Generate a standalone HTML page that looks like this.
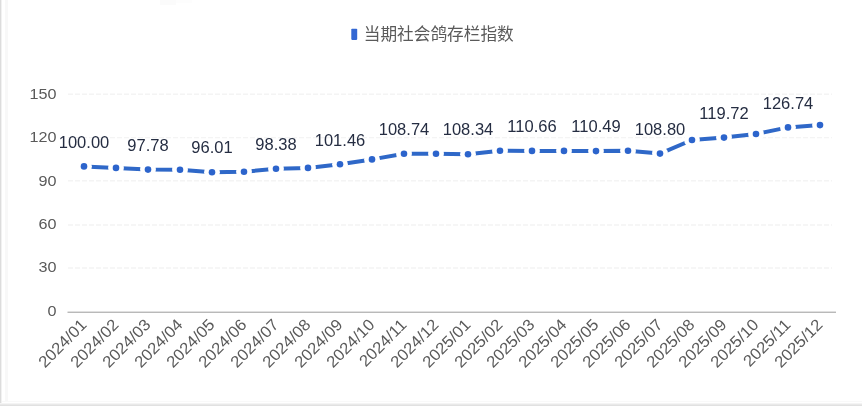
<!DOCTYPE html>
<html lang="zh"><head><meta charset="utf-8"><title>当期社会鸽存栏指数</title>
<style>
html,body{margin:0;padding:0;background:#fff;}
body{width:862px;height:406px;overflow:hidden;position:relative;}
svg{display:block;position:absolute;left:0;top:0;}
text{font-family:"Liberation Sans","Noto Sans CJK SC",sans-serif;}
.ax{fill:#5a5a5a;font-size:15.5px;}
.dl{fill:#252d42;font-size:15.9px;}
.xl{fill:#5a5a5a;font-size:16.1px;}
</style></head><body>
<svg width="862" height="406" viewBox="0 0 862 406">
<rect x="0" y="0" width="862" height="406" fill="#ffffff"/>
<rect x="0" y="0" width="1" height="406" fill="#dcdcdc"/>
<rect x="1" y="0" width="1" height="406" fill="#f1f1f1"/>
<rect x="5" y="0" width="3" height="402" fill="#f8f8f8"/>
<rect x="2" y="401" width="860" height="1" fill="#f9f9f9"/>
<rect x="0" y="403" width="862" height="1" fill="#f4f4f4"/>
<rect x="0" y="404" width="862" height="1" fill="#e9e9e9"/>
<rect x="0" y="405" width="862" height="1" fill="#e1e1e1"/>

<rect x="160" y="0" width="16" height="5" fill="#fbfbfb"/><rect x="176" y="0" width="16" height="3" fill="#fdfdfd"/>
<rect x="351.3" y="28.8" width="5.9" height="11.1" rx="0.8" fill="#3367d3"/>
<text x="363.8" y="39.5" font-size="16.66" fill="#5a5a5a">当期社会鸽存栏指数</text>
<line x1="68.0" x2="832" y1="268.0" y2="268.0" stroke="#f4f4f4" stroke-width="1.4" stroke-dasharray="5 2"/>
<line x1="68.0" x2="832" y1="225.0" y2="225.0" stroke="#f4f4f4" stroke-width="1.4" stroke-dasharray="5 2"/>
<line x1="68.0" x2="832" y1="180.7" y2="180.7" stroke="#f4f4f4" stroke-width="1.4" stroke-dasharray="5 2"/>
<line x1="68.0" x2="832" y1="137.6" y2="137.6" stroke="#f4f4f4" stroke-width="1.4" stroke-dasharray="5 2"/>
<line x1="68.0" x2="832" y1="94.3" y2="94.3" stroke="#f4f4f4" stroke-width="1.4" stroke-dasharray="5 2"/>
<line x1="67.5" x2="836.0" y1="312.2" y2="312.2" stroke="#9a9a9a" stroke-width="1"/>
<text class="ax" transform="translate(56.5,315.7) scale(1.045,1)" text-anchor="end">0</text>
<text class="ax" transform="translate(56.5,272.1) scale(1.045,1)" text-anchor="end">30</text>
<text class="ax" transform="translate(56.5,228.8) scale(1.045,1)" text-anchor="end">60</text>
<text class="ax" transform="translate(56.5,185.5) scale(1.045,1)" text-anchor="end">90</text>
<text class="ax" transform="translate(56.5,141.5) scale(1.045,1)" text-anchor="end">120</text>
<text class="ax" transform="translate(56.5,98.6) scale(1.045,1)" text-anchor="end">150</text>
<text class="xl" transform="translate(83.6,321.7) rotate(-45) scale(1.04,1)" text-anchor="end" y="5.7">2024/01</text>
<text class="xl" transform="translate(115.6,321.7) rotate(-45) scale(1.04,1)" text-anchor="end" y="5.7">2024/02</text>
<text class="xl" transform="translate(147.6,321.7) rotate(-45) scale(1.04,1)" text-anchor="end" y="5.7">2024/03</text>
<text class="xl" transform="translate(179.6,321.7) rotate(-45) scale(1.04,1)" text-anchor="end" y="5.7">2024/04</text>
<text class="xl" transform="translate(211.6,321.7) rotate(-45) scale(1.04,1)" text-anchor="end" y="5.7">2024/05</text>
<text class="xl" transform="translate(243.6,321.7) rotate(-45) scale(1.04,1)" text-anchor="end" y="5.7">2024/06</text>
<text class="xl" transform="translate(275.6,321.7) rotate(-45) scale(1.04,1)" text-anchor="end" y="5.7">2024/07</text>
<text class="xl" transform="translate(307.6,321.7) rotate(-45) scale(1.04,1)" text-anchor="end" y="5.7">2024/08</text>
<text class="xl" transform="translate(339.6,321.7) rotate(-45) scale(1.04,1)" text-anchor="end" y="5.7">2024/09</text>
<text class="xl" transform="translate(371.6,321.7) rotate(-45) scale(1.04,1)" text-anchor="end" y="5.7">2024/10</text>
<text class="xl" transform="translate(403.6,321.7) rotate(-45) scale(1.04,1)" text-anchor="end" y="5.7">2024/11</text>
<text class="xl" transform="translate(435.6,321.7) rotate(-45) scale(1.04,1)" text-anchor="end" y="5.7">2024/12</text>
<text class="xl" transform="translate(467.6,321.7) rotate(-45) scale(1.04,1)" text-anchor="end" y="5.7">2025/01</text>
<text class="xl" transform="translate(499.6,321.7) rotate(-45) scale(1.04,1)" text-anchor="end" y="5.7">2025/02</text>
<text class="xl" transform="translate(531.6,321.7) rotate(-45) scale(1.04,1)" text-anchor="end" y="5.7">2025/03</text>
<text class="xl" transform="translate(563.6,321.7) rotate(-45) scale(1.04,1)" text-anchor="end" y="5.7">2025/04</text>
<text class="xl" transform="translate(595.6,321.7) rotate(-45) scale(1.04,1)" text-anchor="end" y="5.7">2025/05</text>
<text class="xl" transform="translate(627.6,321.7) rotate(-45) scale(1.04,1)" text-anchor="end" y="5.7">2025/06</text>
<text class="xl" transform="translate(659.6,321.7) rotate(-45) scale(1.04,1)" text-anchor="end" y="5.7">2025/07</text>
<text class="xl" transform="translate(691.6,321.7) rotate(-45) scale(1.04,1)" text-anchor="end" y="5.7">2025/08</text>
<text class="xl" transform="translate(723.6,321.7) rotate(-45) scale(1.04,1)" text-anchor="end" y="5.7">2025/09</text>
<text class="xl" transform="translate(755.6,321.7) rotate(-45) scale(1.04,1)" text-anchor="end" y="5.7">2025/10</text>
<text class="xl" transform="translate(787.6,321.7) rotate(-45) scale(1.04,1)" text-anchor="end" y="5.7">2025/11</text>
<text class="xl" transform="translate(819.6,321.7) rotate(-45) scale(1.04,1)" text-anchor="end" y="5.7">2025/12</text>
<path d="M84.0,166.4 L116.0,167.9 L148.0,169.6 L180.0,169.7 L212.0,172.2 L244.0,171.8 L276.0,168.8 L308.0,167.9 L340.0,164.3 L372.0,159.4 L404.0,153.7 L436.0,153.7 L468.0,154.2 L500.0,150.7 L532.0,150.9 L564.0,150.9 L596.0,151.1 L628.0,150.8 L660.0,153.6 L692.0,140.0 L724.0,137.6 L756.0,134.0 L788.0,127.4 L820.0,125.1" fill="none" stroke="#2f68c8" stroke-width="4" stroke-linejoin="round"/>
<circle cx="84.0" cy="166.4" r="7.9" fill="#ffffff"/>
<circle cx="116.0" cy="167.9" r="7.9" fill="#ffffff"/>
<circle cx="148.0" cy="169.6" r="7.9" fill="#ffffff"/>
<circle cx="180.0" cy="169.7" r="7.9" fill="#ffffff"/>
<circle cx="212.0" cy="172.2" r="7.9" fill="#ffffff"/>
<circle cx="244.0" cy="171.8" r="7.9" fill="#ffffff"/>
<circle cx="276.0" cy="168.8" r="7.9" fill="#ffffff"/>
<circle cx="308.0" cy="167.9" r="7.9" fill="#ffffff"/>
<circle cx="340.0" cy="164.3" r="7.9" fill="#ffffff"/>
<circle cx="372.0" cy="159.4" r="7.9" fill="#ffffff"/>
<circle cx="404.0" cy="153.7" r="7.9" fill="#ffffff"/>
<circle cx="436.0" cy="153.7" r="7.9" fill="#ffffff"/>
<circle cx="468.0" cy="154.2" r="7.9" fill="#ffffff"/>
<circle cx="500.0" cy="150.7" r="7.9" fill="#ffffff"/>
<circle cx="532.0" cy="150.9" r="7.9" fill="#ffffff"/>
<circle cx="564.0" cy="150.9" r="7.9" fill="#ffffff"/>
<circle cx="596.0" cy="151.1" r="7.9" fill="#ffffff"/>
<circle cx="628.0" cy="150.8" r="7.9" fill="#ffffff"/>
<circle cx="660.0" cy="153.6" r="7.9" fill="#ffffff"/>
<circle cx="692.0" cy="140.0" r="7.9" fill="#ffffff"/>
<circle cx="724.0" cy="137.6" r="7.9" fill="#ffffff"/>
<circle cx="756.0" cy="134.0" r="7.9" fill="#ffffff"/>
<circle cx="788.0" cy="127.4" r="7.9" fill="#ffffff"/>
<circle cx="820.0" cy="125.1" r="7.9" fill="#ffffff"/>
<circle cx="84.0" cy="166.4" r="3.3" fill="#2c64cc"/>
<circle cx="116.0" cy="167.9" r="3.3" fill="#2c64cc"/>
<circle cx="148.0" cy="169.6" r="3.3" fill="#2c64cc"/>
<circle cx="180.0" cy="169.7" r="3.3" fill="#2c64cc"/>
<circle cx="212.0" cy="172.2" r="3.3" fill="#2c64cc"/>
<circle cx="244.0" cy="171.8" r="3.3" fill="#2c64cc"/>
<circle cx="276.0" cy="168.8" r="3.3" fill="#2c64cc"/>
<circle cx="308.0" cy="167.9" r="3.3" fill="#2c64cc"/>
<circle cx="340.0" cy="164.3" r="3.3" fill="#2c64cc"/>
<circle cx="372.0" cy="159.4" r="3.3" fill="#2c64cc"/>
<circle cx="404.0" cy="153.7" r="3.3" fill="#2c64cc"/>
<circle cx="436.0" cy="153.7" r="3.3" fill="#2c64cc"/>
<circle cx="468.0" cy="154.2" r="3.3" fill="#2c64cc"/>
<circle cx="500.0" cy="150.7" r="3.3" fill="#2c64cc"/>
<circle cx="532.0" cy="150.9" r="3.3" fill="#2c64cc"/>
<circle cx="564.0" cy="150.9" r="3.3" fill="#2c64cc"/>
<circle cx="596.0" cy="151.1" r="3.3" fill="#2c64cc"/>
<circle cx="628.0" cy="150.8" r="3.3" fill="#2c64cc"/>
<circle cx="660.0" cy="153.6" r="3.3" fill="#2c64cc"/>
<circle cx="692.0" cy="140.0" r="3.3" fill="#2c64cc"/>
<circle cx="724.0" cy="137.6" r="3.3" fill="#2c64cc"/>
<circle cx="756.0" cy="134.0" r="3.3" fill="#2c64cc"/>
<circle cx="788.0" cy="127.4" r="3.3" fill="#2c64cc"/>
<circle cx="820.0" cy="125.1" r="3.3" fill="#2c64cc"/>
<text class="dl" transform="translate(84.0,147.6) scale(1.04,1)" text-anchor="middle">100.00</text>
<text class="dl" transform="translate(148.0,150.8) scale(1.04,1)" text-anchor="middle">97.78</text>
<text class="dl" transform="translate(212.0,153.4) scale(1.04,1)" text-anchor="middle">96.01</text>
<text class="dl" transform="translate(276.0,150.0) scale(1.04,1)" text-anchor="middle">98.38</text>
<text class="dl" transform="translate(340.0,145.5) scale(1.04,1)" text-anchor="middle">101.46</text>
<text class="dl" transform="translate(404.0,134.9) scale(1.04,1)" text-anchor="middle">108.74</text>
<text class="dl" transform="translate(468.0,135.4) scale(1.04,1)" text-anchor="middle">108.34</text>
<text class="dl" transform="translate(532.0,132.1) scale(1.04,1)" text-anchor="middle">110.66</text>
<text class="dl" transform="translate(596.0,132.3) scale(1.04,1)" text-anchor="middle">110.49</text>
<text class="dl" transform="translate(660.0,134.8) scale(1.04,1)" text-anchor="middle">108.80</text>
<text class="dl" transform="translate(724.0,118.8) scale(1.04,1)" text-anchor="middle">119.72</text>
<text class="dl" transform="translate(788.0,108.6) scale(1.04,1)" text-anchor="middle">126.74</text>
</svg></body></html>
